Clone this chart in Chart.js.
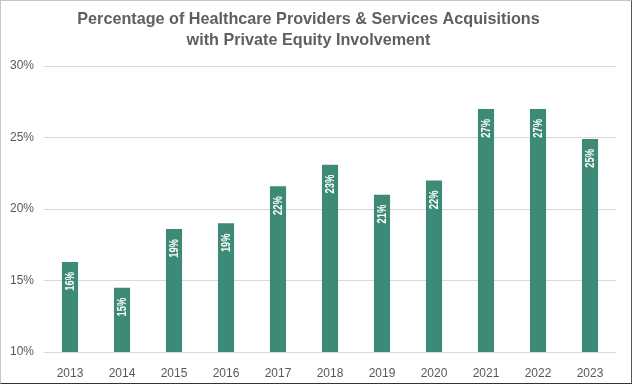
<!DOCTYPE html>
<html>
<head>
<meta charset="utf-8">
<script src="https://cdn.jsdelivr.net/npm/chart.js@4/dist/chart.umd.min.js"></script>
<style>
html,body{margin:0;padding:0;background:#fff;}
#wrap{position:relative;width:632px;height:384px;box-sizing:border-box;border:1px solid #c6c6c6;border-right-color:#555;border-bottom-color:#333;}
canvas{display:block;}
</style>
</head>
<body>
<div id="wrap"><canvas id="c" width="630" height="382"></canvas></div>
<script>
const years = ["2013","2014","2015","2016","2017","2018","2019","2020","2021","2022","2023"];
const shares = [16.3, 14.5, 18.6, 19.0, 21.6, 23.1, 21.0, 22.0, 27.0, 27.0, 24.9];
const labels = ["16%","15%","19%","19%","22%","23%","21%","22%","27%","27%","25%"];
const yTicks = [10, 15, 20, 25, 30];
const titleLines = ["Percentage of Healthcare Providers & Services Acquisitions","with Private Equity Involvement"];

const FONT = "'Liberation Sans', Arial, sans-serif";

const barLabelPlugin = {
  id: 'barLabels',
  afterDatasetsDraw(chart) {
    const ctx = chart.ctx;
    const meta = chart.getDatasetMeta(0);
    ctx.save();
    ctx.fillStyle = '#ffffff';
    ctx.font = 'bold 13px ' + FONT;
    ctx.textAlign = 'right';
    ctx.textBaseline = 'middle';
    meta.data.forEach((bar, i) => {
      ctx.save();
      ctx.translate(bar.x + 0.5, bar.y + 10);
      ctx.rotate(-Math.PI / 2);
      ctx.scale(0.72, 1);
      ctx.fillText(labels[i], 0, 0);
      ctx.restore();
    });
    ctx.restore();
  }
};

new Chart(document.getElementById('c'), {
  type: 'bar',
  data: {
    labels: years,
    datasets: [{
      data: shares,
      backgroundColor: '#3d8a77',
      borderWidth: 0,
      categoryPercentage: 1.0,
      barPercentage: 0.31
    }]
  },
  options: {
    responsive: false,
    animation: false,
    layout: { padding: { left: 0, right: 15, top: 0, bottom: 0 } },
    plugins: {
      legend: { display: false },
      tooltip: { enabled: false },
      title: {
        display: true,
        text: titleLines,
        color: '#5f5f5f',
        font: { family: FONT, size: 16.2, weight: 'bold', lineHeight: 1.3 },
        padding: { top: 8, bottom: 15 }
      }
    },
    scales: {
      x: {
        grid: { display: false },
        border: { display: false },
        ticks: { color: '#595959', font: { family: FONT, size: 12 }, padding: 6 },
        afterFit(s) { s.height = 31; }
      },
      y: {
        min: 10,
        max: 30,
        afterBuildTicks(s) { s.ticks = yTicks.map(v => ({ value: v })); },
        grid: { color: '#d9d9d9', lineWidth: 1, drawTicks: false },
        border: { display: false },
        ticks: {
          color: '#595959',
          font: { family: FONT, size: 12 },
          padding: 10,
          callback: v => v + '%'
        },
        afterFit(s) { s.width = 43; }
      }
    }
  },
  plugins: [barLabelPlugin]
});
</script>
</body>
</html>
